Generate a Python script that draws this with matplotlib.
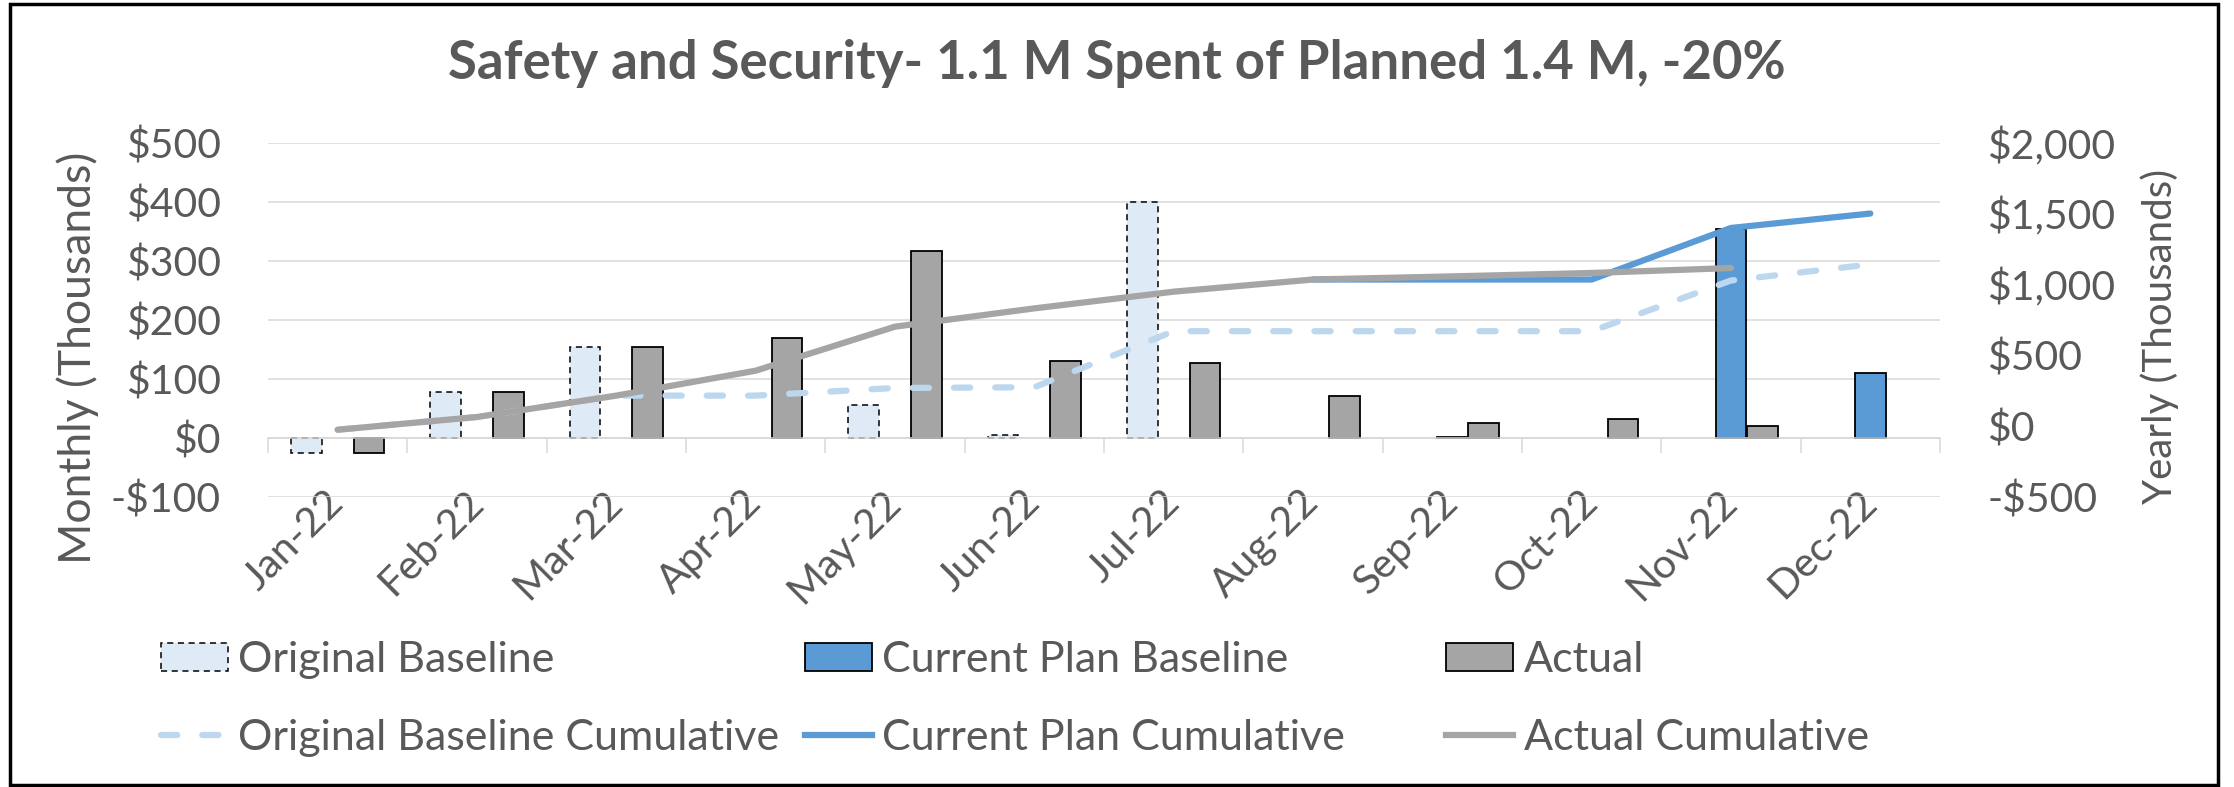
import matplotlib
matplotlib.use("Agg")
import matplotlib.pyplot as plt
import numpy as np
from matplotlib.patches import Patch, Rectangle
from matplotlib.lines import Line2D

plt.rcParams['font.family'] = ['Lato', 'DejaVu Sans']

months = ["Jan-22", "Feb-22", "Mar-22", "Apr-22", "May-22", "Jun-22",
          "Jul-22", "Aug-22", "Sep-22", "Oct-22", "Nov-22", "Dec-22"]

# monthly spend, thousands (left axis)
original_baseline = [-25, 78, 155, None, 56, 5, 400, None, None, None, None, None]
current_plan = [None, None, None, None, None, None, None, None, 2, None, 354, 111]
actual = [-25, 78, 155, 170, 317, 131, 127, 72, 26, 33, 20, None]

# cumulative, thousands (right axis)
original_cum = [-25, 65, 216, 216, 270, 275, 671, 671, 671, 671, 1029, 1143]
current_cum = [None, None, None, None, None, None, None, 1036, 1036, 1036, 1400, 1502]
actual_cum = [-25, 65, 216, 392, 703, 832, 950, 1036, 1058, 1082, 1117, None]

left_ticks = [-100, 0, 100, 200, 300, 400, 500]
right_ticks = [-500, 0, 500, 1000, 1500, 2000]

TEXT = '#595959'
GRID = '#D9D9D9'
OB_FILL = '#DEEBF7'
OB_LINE = '#BDD7EE'
CP_BLUE = '#5B9BD5'
ACT_GRAY = '#A5A5A5'

W, H = 2234, 787
fig = plt.figure(figsize=(W / 100, H / 100), dpi=100)

# plot area in pixels: x 268..1940, y 143..497 (from top)
ax = fig.add_axes([268 / W, 1 - 497 / H, (1940 - 268) / W, (497 - 143) / H])

x = np.arange(len(months))
bw = 0.22
ob = np.array(original_baseline, dtype=float)
cp = np.array(current_plan, dtype=float)
ac = np.array(actual, dtype=float)

ax.bar(x - 0.225, ob, bw, color=OB_FILL, edgecolor='black', linewidth=1.1,
       linestyle=(0, (4, 3)), zorder=2)
ax.bar(x, cp, bw, color=CP_BLUE, edgecolor='black', linewidth=1.3, zorder=2)
ax.bar(x + 0.225, ac, bw, color=ACT_GRAY, edgecolor='black', linewidth=1.3, zorder=2)

ax.set_xlim(-0.5, 11.5)
ax.set_ylim(-100, 500)
ax.set_yticks(left_ticks)
ax.set_yticklabels([("-$%d" % -v) if v < 0 else ("$%d" % v) for v in left_ticks])
ax.grid(axis='y', color=GRID, linewidth=1.1)
ax.set_axisbelow(True)

for s in ['top', 'left', 'right']:
    ax.spines[s].set_visible(False)
ax.spines['bottom'].set_position(('data', 0))
ax.spines['bottom'].set_color(GRID)
ax.spines['bottom'].set_linewidth(1.1)

# boundaries get the tick marks, centres get the labels
ax.set_xticks(np.arange(-0.5, 12, 1))
ax.set_xticklabels([])
ax.set_xticks(x, minor=True)
ax.set_xticklabels(months, minor=True, rotation=45, ha='right', va='center',
                   rotation_mode='anchor')
ax.tick_params(axis='x', which='major', length=11, width=1.1, color=GRID)
ax.tick_params(axis='x', which='minor', length=0, pad=42, labelsize=29.5, labelcolor=TEXT)
ax.tick_params(axis='y', length=0, pad=34, labelsize=29.5, labelcolor=TEXT)

ax2 = ax.twinx()
ax2.set_ylim(-500, 2000)
ax2.set_yticks(right_ticks)
ax2.set_yticklabels([("-$%s" % format(-v, ',')) if v < 0 else ("$%s" % format(v, ','))
                     for v in right_ticks])
ax2.tick_params(axis='y', length=0, pad=34, labelsize=29.5, labelcolor=TEXT)
for s in ax2.spines.values():
    s.set_visible(False)

dash = (2.6, 4.0)
ax2.plot(x, np.array(original_cum, dtype=float), color=OB_LINE, lw=4.5,
         dashes=dash, dash_capstyle='round', solid_capstyle='round')
ax2.plot(x, np.array(current_cum, dtype=float), color=CP_BLUE, lw=4.5,
         solid_capstyle='round', solid_joinstyle='round')
ax2.plot(x, np.array(actual_cum, dtype=float), color=ACT_GRAY, lw=4.5,
         solid_capstyle='round', solid_joinstyle='round')

# titles
fig.text(0.5, 1 - 63 / H, "Safety and Security- 1.1 M Spent of Planned 1.4 M, -20%",
         ha='center', va='center', fontsize=38, fontweight='bold', color=TEXT)
fig.text(78 / W, 1 - 358 / H, "Monthly (Thousands)", rotation=90,
         ha='center', va='center', fontsize=32, color=TEXT)
fig.text(2160 / W, 1 - 336 / H, "Yearly (Thousands)", rotation=90,
         ha='center', va='center', fontsize=29, color=TEXT)

# legend: three equal-width columns of two rows
columns = [
    [Patch(facecolor=OB_FILL, edgecolor='black', linestyle=(0, (4, 3)), linewidth=1.1),
     Line2D([], [], color=OB_LINE, lw=4.5, dashes=dash, dash_capstyle='round')],
    [Patch(facecolor=CP_BLUE, edgecolor='black', linewidth=1.3),
     Line2D([], [], color=CP_BLUE, lw=4.5)],
    [Patch(facecolor=ACT_GRAY, edgecolor='black', linewidth=1.3),
     Line2D([], [], color=ACT_GRAY, lw=4.5)],
]
column_labels = [["Original Baseline", "Original Baseline Cumulative"],
                 ["Current Plan Baseline", "Current Plan Cumulative"],
                 ["Actual", "Actual Cumulative"]]
for xpos, handles, labels in zip([161, 805, 1446], columns, column_labels):
    fig.legend(handles=handles, labels=labels, loc='upper left',
               bbox_to_anchor=(xpos / W, 1 - 641 / H), frameon=False,
               fontsize=31, labelcolor=TEXT, borderpad=0, borderaxespad=0,
               handlelength=1.55, handleheight=0.62, handletextpad=0.25,
               labelspacing=0.92)

# chart border
fig.patches.append(Rectangle((10 / W, 1 - 785 / H), 2208 / W, 781 / H,
                             transform=fig.transFigure, fill=False,
                             edgecolor='black', linewidth=2.5))

fig.savefig('out.png', dpi=100)
